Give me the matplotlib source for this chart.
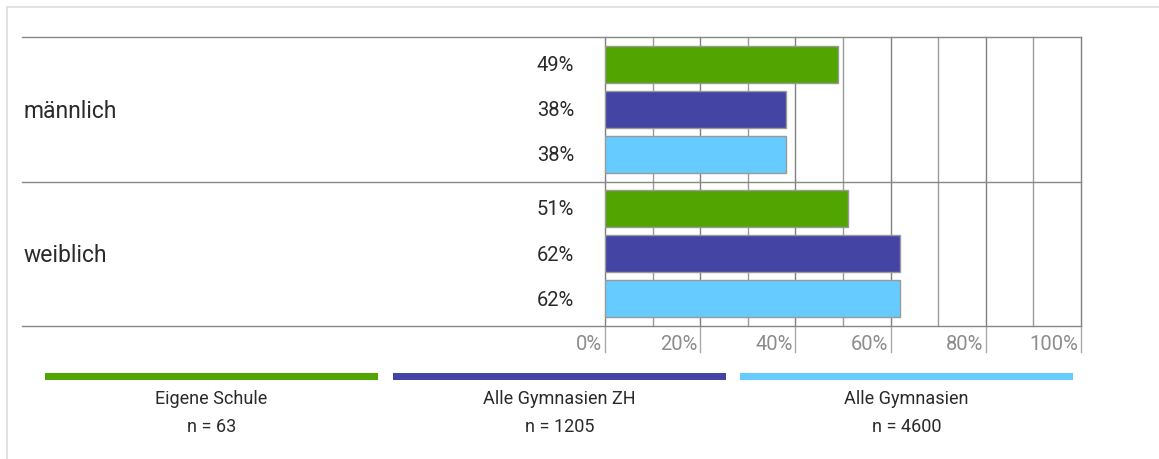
import matplotlib.pyplot as plt
from matplotlib.lines import Line2D
from matplotlib.patches import Rectangle
from matplotlib import transforms

plt.rcParams['font.family'] = ['Roboto', 'DejaVu Sans']

# data
groups = ['männlich', 'weiblich']
series = ['Eigene Schule', 'Alle Gymnasien ZH', 'Alle Gymnasien']
counts = [63, 1205, 4600]
colors = ['#52a500', '#4444a5', '#66ccff']
values = {
    'männlich': [49, 38, 38],
    'weiblich': [51, 62, 62],
}
ticks = [0, 20, 40, 60, 80, 100]

W, H = 1159, 459
fig = plt.figure(figsize=(W / 100, H / 100), dpi=100)


def fx(px):
    return px / W


def fy(py):
    return 1 - py / H


# bar axes: x from 605 to 1081 px, y from 37 to 326 px
ax = fig.add_axes([fx(605), fy(326), fx(1081) - fx(605), fy(37) - fy(326)])
group_h = 3.2
ax.set_xlim(0, 100)
ax.set_ylim(group_h * len(groups), 0)
for s in ax.spines.values():
    s.set_visible(False)
ax.set_xticks([])
ax.set_yticks([])

# vertical grid every 10%
for x in range(0, 101, 10):
    major = x % 20 == 0
    ax.axvline(x, color='#808080' if major else '#9a9a9a', lw=1, zorder=0,
               clip_on=False)
    if major:
        ax.plot([x, x], [0, -0.09], transform=ax.get_xaxis_transform(),
                color='#aaaaaa', lw=1, clip_on=False)

for t in ticks:
    ax.annotate(f'{t}%', xy=(t, 0), xycoords=('data', 'axes fraction'),
                xytext=(-2, -13), textcoords='offset points',
                ha='right', va='center', fontsize=14.5, color='#8c8c8c')

label_tr = transforms.blended_transform_factory(fig.transFigure, ax.transData)
for g, name in enumerate(groups):
    for i, v in enumerate(values[name]):
        y = g * group_h + i + 0.6
        ax.barh(y, v, height=0.82, color=colors[i], edgecolor='#999999',
                linewidth=1, zorder=2)
        ax.text(fx(574), y + 0.03, f'{v}%', transform=label_tr, ha='right',
                va='center', fontsize=14.5, color='#2a2a2a')
    ax.text(fx(24), g * group_h + 1.64, name, transform=label_tr, ha='left',
            va='center', fontsize=16.5, color='#2a2a2a')

# group separators
for py in [37, 182, 326]:
    fig.add_artist(Line2D([fx(22), fx(1081)], [fy(py), fy(py)],
                          color='#888888', lw=1))

# outer frame
fig.add_artist(Line2D([fx(7), fx(7)], [fy(7), 0], color='#dddddd', lw=1.2))
fig.add_artist(Line2D([fx(7), 1], [fy(7), fy(7)], color='#dddddd', lw=1.2))

# legend strips with labels
strip_x = [45, 393, 740]
strip_w = 333
for i, name in enumerate(series):
    x0 = strip_x[i]
    fig.add_artist(Rectangle((fx(x0), fy(380)), fx(strip_w), fy(373) - fy(380),
                             transform=fig.transFigure, color=colors[i], lw=0))
    cx = fx(x0 + strip_w / 2)
    fig.text(cx, fy(399), name, ha='center', va='center', fontsize=13,
             color='#2a2a2a')
    fig.text(cx, fy(427), f'n = {counts[i]}', ha='center', va='center',
             fontsize=13, color='#2a2a2a')

fig.savefig('out.png', dpi=100)
